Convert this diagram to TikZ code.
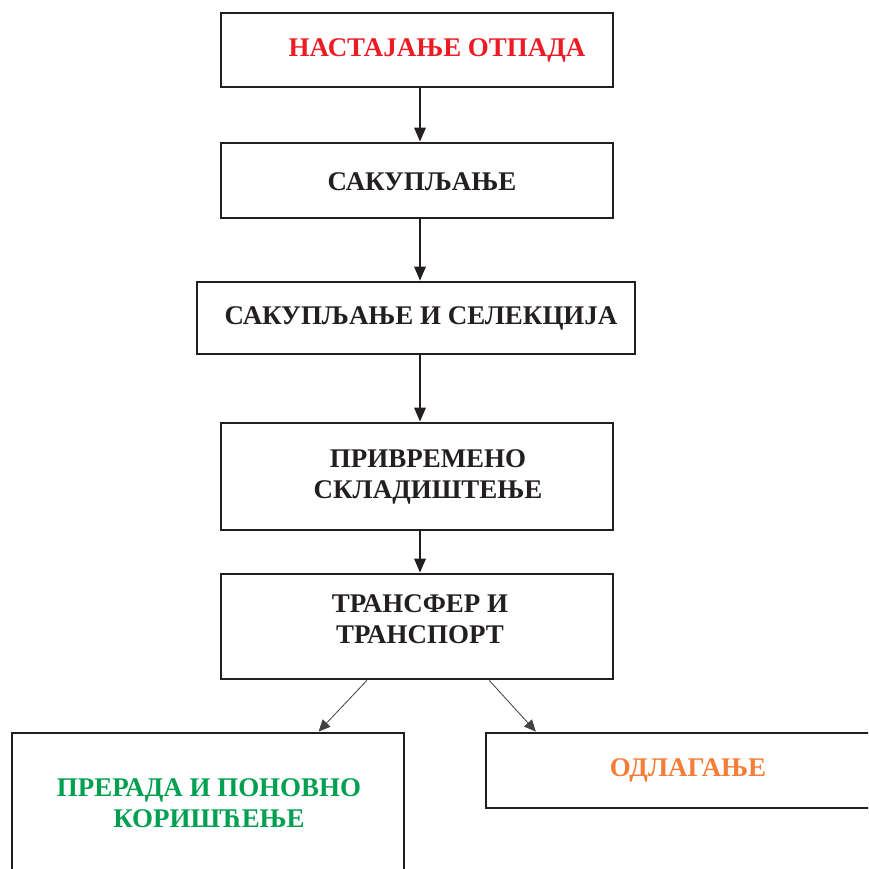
\documentclass[tikz,border=0pt]{standalone}
\usepackage{fontspec}
\setmainfont{Liberation Serif}
\usetikzlibrary{arrows.meta,fit,calc}
\definecolor{txtc}{RGB}{35,31,32}
\definecolor{redc}{RGB}{237,28,36}
\definecolor{greenc}{RGB}{0,160,80}
\definecolor{orangec}{RGB}{245,125,55}
\begin{document}
\begin{tikzpicture}[x=0.03cm,y=-0.03cm,
  box/.style={draw=txtc,line width=2.4pt,inner sep=0pt,rectangle},
  lbl/.style={font=\fontsize{23}{26}\selectfont\bfseries,text=txtc,align=center,inner sep=0pt},
  arr/.style={draw=txtc,line width=1pt,-{Triangle[length=12pt,width=10pt]}},
  darr/.style={draw=txtc!85,line width=0.7pt,-{Triangle[length=10pt,width=9pt]}}]
\useasboundingbox (0,0) rectangle (868,869);
\clip (0,0) rectangle (868,869);
\fill[white] (0,0) rectangle (868,869);
\coordinate (ax) at (420,0);
\node[box,fit={(221,13) (613,87)}] (b1) {};
\node[box,fit={(221,143) (613,218)}] (b2) {};
\node[box,fit={(197,282) (635,354)}] (b3) {};
\node[box,fit={(221,423) (613,530)}] (b4) {};
\node[box,fit={(221,574) (613,679)}] (b5) {};
\node[box,fit={(12,733) (404,900)}] (b6) {};
\node[box,fit={(486,733) (890,808)}] (b7) {};
\node[lbl,text=redc] (t1) at (437,50) {НАСТАЈАЊЕ ОТПАДА};
\node[lbl] (t2) at (422,182) {САКУПЉАЊЕ};
\node[lbl] (t3) at (421,318) {САКУПЉАЊЕ И СЕЛЕКЦИЈА};
\node[lbl] (t4) at (428,477) {ПРИВРЕМЕНО\\СКЛАДИШТЕЊЕ};
\node[lbl] (t5) at (420,619) {ТРАНСФЕР И\\ТРАНСПОРТ};
\node[lbl,text=greenc] (t6) at (209,803) {ПРЕРАДА И ПОНОВНО\\КОРИШЋЕЊЕ};
\node[lbl,text=orangec] (t7) at (688,770) {ОДЛАГАЊЕ};
\draw[arr] (b1.south -| ax) -- (b2.north -| ax);
\draw[arr] (b2.south -| ax) -- (b3.north -| ax);
\draw[arr] (b3.south -| ax) -- (b4.north -| ax);
\draw[arr] (b4.south -| ax) -- (b5.north -| ax);
\draw[darr] ($(b5.south west)!0.373!(b5.south east)$) -- ($(b6.north west)!0.78!(b6.north east)$);
\draw[darr] ($(b5.south west)!0.683!(b5.south east)$) -- ($(b7.north west)!0.126!(b7.north east)$);
\end{tikzpicture}
\end{document}
